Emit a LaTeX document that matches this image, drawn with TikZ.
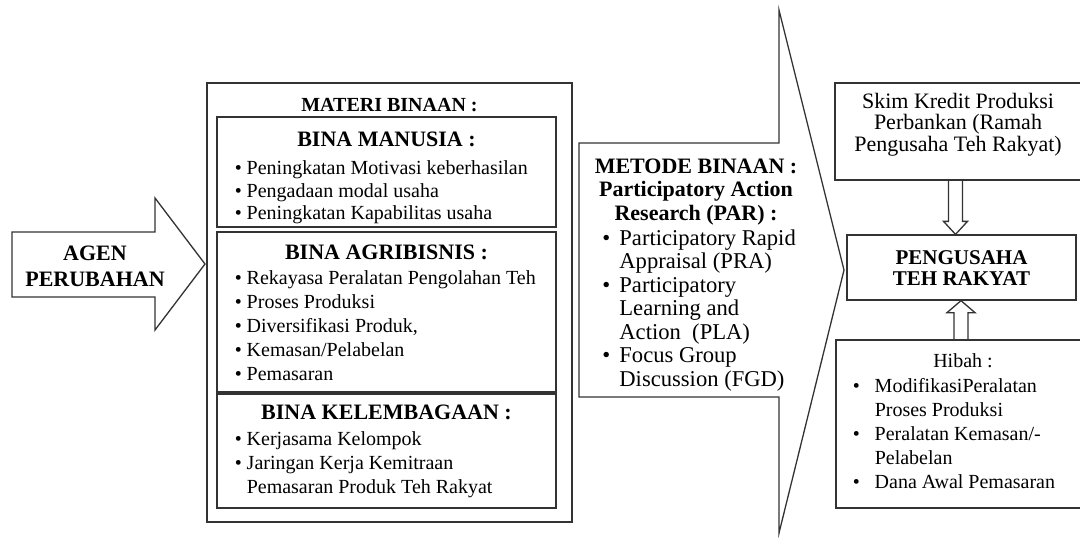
\documentclass[tikz,border=0pt]{standalone}
\usepackage{fontspec}
\setmainfont{Liberation Serif}
\usetikzlibrary{positioning,calc,fit}

\newcommand{\bul}[1][6pt]{\makebox[#1][l]{\textbullet}}

\tikzset{
  boxline/.style={draw=black!80,line width=0.65pt},
  panel/.style={boxline,inner sep=0pt},
  bigarrow/.style={boxline,fill=white,line join=miter},
  txt/.style={inner sep=0pt,font=\fontsize{10}{12}\selectfont},
  headtxt/.style={inner sep=0pt,font=\bfseries\fontsize{11}{13}\selectfont,align=center,anchor=north},
  listtxt/.style={txt,align=left,anchor=north west}
}

\begin{document}
\begin{tikzpicture}[x=0.5pt,y=-0.5pt]
\useasboundingbox (0,0) rectangle (1080,537);

% agen perubahan
\draw[bigarrow] (12,232) -- (155,232) -- (155,198) -- (205,264) -- (155,330) -- (155,297) -- (12,297) -- cycle;
\node[headtxt] (agen) at (95,245.5) {AGEN\\PERUBAHAN};

% materi binaan
\node[panel,fit={(207,83) (572,522)}] (materi) {};
\node[headtxt,font=\bfseries\fontsize{10}{12}\selectfont,anchor=base] (materititle) at ($(materi.north)+(0,29)$) {MATERI BINAAN :};

\node[panel,fit={(217,117) (556,227)}] (manusia) {};
\node[panel,fit={(217,232) (556,392)}] (agri) {};
\node[panel,fit={(217,394) (556,508)}] (lembaga) {};

\node[headtxt,anchor=base] (manusiahead) at ($(manusia.north)+(0,30)$) {BINA MANUSIA :};
\node[listtxt,font=\fontsize{10}{11.25}\selectfont] (manusialist) at ($(manusia.north west)+(18,44)$) {\bul Peningkatan Motivasi keberhasilan\\\bul Pengadaan modal usaha\\\bul Peningkatan Kapabilitas usaha};

\node[headtxt,anchor=base] (agrihead) at ($(agri.north)+(0,28)$) {BINA AGRIBISNIS :};
\node[listtxt] (agrilist) at ($(agri.north west)+(18,39)$) {\bul Rekayasa Peralatan Pengolahan Teh\\\bul Proses Produksi\\\bul Diversifikasi Produk,\\\bul Kemasan/Pelabelan\\\bul Pemasaran};

\node[headtxt,anchor=base] (lembagahead) at ($(lembaga.north)+(0,26)$) {BINA KELEMBAGAAN :};
\node[listtxt] (lembagalist) at ($(lembaga.north west)+(18,38)$) {\bul Kerjasama Kelompok\\\bul Jaringan Kerja Kemitraan\\\hspace*{6pt}Pemasaran Produk Teh Rakyat};

% metode binaan
\draw[bigarrow] (579,143) -- (779,143) -- (779,10) -- (844,270) -- (779,533) -- (779,397) -- (579,397) -- cycle;
\node[headtxt,font=\bfseries\fontsize{11}{11.75}\selectfont] (metode) at (696,158.5) {METODE BINAAN :\\Participatory Action\\Research (PAR) :};
\begin{scope}
\clip (579,143) rectangle (850,397);
\node[listtxt,font=\fontsize{11.3}{11.75}\selectfont] (metodelist) at (602,229) {\bul[8.5pt]Participatory Rapid\\\hspace*{8.5pt}Appraisal (PRA)\\\bul[8.5pt]Participatory\\\hspace*{8.5pt}Learning and\\\hspace*{8.5pt}Action\ \ (PLA)\\\bul[8.5pt]Focus Group\\\hspace*{8.5pt}Discussion (FGD)};
\end{scope}

% hasil
\node[panel,fit={(835,83) (1083,180)}] (skim) {};
\node[panel,fit={(847,235) (1076,300)}] (pengusaha) {};
\node[panel,fit={(836,340) (1083,508)}] (hibah) {};

\node[txt,align=center,anchor=north,font=\fontsize{11}{10.75}\selectfont] (skimtext) at ($(skim.north)+(-1,10)$) {Skim Kredit Produksi\\Perbankan (Ramah\\Pengusaha Teh Rakyat)};
\node[headtxt,font=\bfseries\fontsize{10.5}{10.5}\selectfont] (pengtext) at ($(pengusaha.north)+(0,16)$) {PENGUSAHA\\TEH RAKYAT};
\node[txt,anchor=base] (hibahtitle) at ($(hibah.north)+(3.5,28)$) {Hibah :};
\node[listtxt] (hibahlist) at ($(hibah.north west)+(17,39)$) {\bul[11pt]ModifikasiPeralatan\\\hspace*{11pt}Proses Produksi\\\bul[11pt]Peralatan Kemasan/-\\\hspace*{11pt}Pelabelan\\\bul[11pt]Dana Awal Pemasaran};

\draw[boxline] ($(skim.south)+(-10.5,0)$) -- ($(pengusaha.north)+(-13,-13)$) -- ($(pengusaha.north)+(-18,-13)$) -- ($(pengusaha.north)+(-6,0)$) -- ($(pengusaha.north)+(6,-13)$) -- ($(pengusaha.north)+(1,-13)$) -- ($(skim.south)+(3.5,0)$);
\draw[boxline] ($(hibah.north)+(-5.5,0)$) -- ($(pengusaha.south)+(-7.5,12)$) -- ($(pengusaha.south)+(-14.5,12)$) -- ($(pengusaha.south)+(-0.5,0)$) -- ($(pengusaha.south)+(13.5,12)$) -- ($(pengusaha.south)+(6.5,12)$) -- ($(hibah.north)+(8.5,0)$);
\end{tikzpicture}
\end{document}
